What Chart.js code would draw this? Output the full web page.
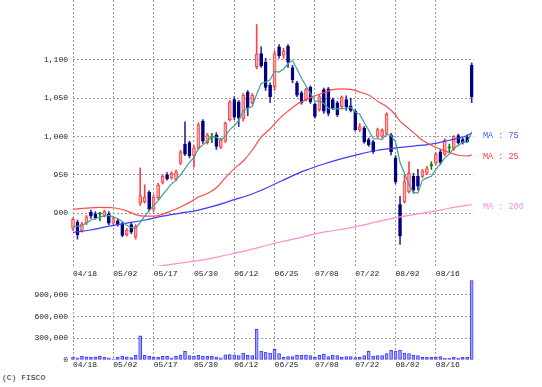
<!DOCTYPE html>
<html><head><meta charset="utf-8">
<script src="https://cdn.jsdelivr.net/npm/chart.js@4"></script>
<style>
html,body{margin:0;padding:0;background:#fff;width:542px;height:387px;overflow:hidden;}
#main{position:absolute;left:0;top:0;}
#vol{position:absolute;left:0;top:267px;}
#copy{position:absolute;left:2px;top:373px;font:8px "Liberation Mono","DejaVu Sans Mono",monospace;color:#222;white-space:pre;line-height:10px;}
</style></head><body>
<canvas id="main" width="542" height="266"></canvas>
<canvas id="vol" width="542" height="105"></canvas>
<div id="copy">(C) FISCO</div>
<script>
const tickIdx = [0, 9, 18, 27, 36, 45, 54, 63, 72, 81];
const tickLabels = ['04/18','05/02','05/17','05/30','06/12','06/25','07/08','07/22','08/02','08/16'];
const priceTicks = [900, 950, 1000, 1050, 1100];
const volTicks = [0, 300000, 600000, 900000];

const open = [880,888,877,887,901,899,899,897,899,887, 890,886,872,885,869,913,915,927,905,920,
  940,950,946,944,965,990,992,975,985,1020, 992,998,1002,986,994,1022,1048,1045,1023,1058,
  1044,1091,1108,1097,1067,1065,1117,1106,1118,1090, 1070,1057,1048,1064,1042,1035,1061,1062,1048,1044,
  1039,1048,1040,1033,1009,1011,996,993,1000,1000, 1004,1002,972,911,915,928,948,948,948,952,
  962,965,980,977,985,984,1001,996,999,1093];
const high = [894,891,888,897,904,902,901,904,902,895, 892,888,880,887,885,959,937,929,924,939,
  950,953,954,956,982,1019,994,988,1018,1022, 1004,1004,1005,998,1019,1047,1052,1047,1056,1060,
  1056,1146,1117,1102,1070,1112,1120,1115,1120,1093, 1072,1059,1063,1066,1044,1054,1063,1064,1050,1046,
  1053,1053,1050,1035,1017,1013,998,995,1011,1010, 1031,1004,975,922,950,967,952,957,957,961,
  967,979,983,997,990,1001,1003,998,1002,1096];
const low = [877,866,875,885,893,892,890,895,885,885, 883,869,870,873,866,910,913,903,902,918,
  938,943,944,942,963,975,972,960,983,991, 990,992,983,984,992,1020,1022,1013,1020,1027,
  1042,1088,1090,1060,1044,1060,1102,1102,1090,1070, 1052,1042,1046,1043,1024,1033,1030,1027,1035,1026,
  1037,1034,1032,1007,1006,991,987,978,998,998, 1002,976,938,859,913,926,926,930,946,950,
  957,963,963,975,980,982,990,990,992,1044];
const close = [892,872,886,895,896,894,899,902,887,893, 885,871,878,875,883,923,921,905,921,937,
  948,945,952,954,980,977,975,985,1015,994, 1002,998,987,996,1017,1045,1025,1024,1054,1037,
  1054,1107,1092,1064,1052,1108,1105,1111,1097,1074, 1054,1044,1061,1045,1026,1052,1033,1030,1037,1028,
  1051,1039,1034,1009,1013,993,989,980,1009,1008, 1029,980,941,870,941,952,930,935,955,958,
  962,977,966,995,985,1000,992,992,993,1052];
const volume = [40000,30000,50000,45000,40000,45000,50000,40000,30000,15000,
  40000,55000,45000,35000,65000,335000,65000,50000,40000,40000,
  50000,50000,30000,50000,70000,120000,60000,55000,65000,55000,
  50000,50000,45000,30000,70000,75000,70000,60000,95000,65000,
  60000,425000,125000,110000,92000,147000,88000,37000,46000,46000,
  65000,69000,69000,60000,37000,65000,83000,46000,69000,60000,
  37000,46000,46000,32000,37000,60000,120000,55000,60000,60000,
  88000,134000,124000,138000,97000,88000,65000,60000,37000,37000,
  37000,37000,46000,23000,23000,37000,28000,37000,37000,1097000];
const ma5 = [882,883,884,887,891,893,895,896,897,895, 893,889,884,881,880,888,896,903,910,916,
  924,931,938,943,950,958,966,973,984,989, 994,999,999,995,1000,1009,1014,1021,1033,1037,
  1039,1055,1069,1071,1074,1085,1084,1088,1095,1099, 1088,1076,1066,1056,1046,1046,1043,1037,1036,1036,
  1036,1037,1038,1032,1029,1018,1008,997,997,996, 1003,1001,993,966,952,937,927,926,943,946,
  948,957,964,972,977,985,988,993,992,1006];
const ma25Idx = [0,3,6,9,12,14,16,18,20,22,24,26,28,30,32,34,36,38,40,42,44,46,48,50,52,54,56,58,60,62,64,66,68,70,72,73,74,76,78,80,82,84,86,88,89];
const ma25 = [905,906.5,907.5,907,903,898,896,896,898.5,903,908,914,921,925.5,933,946,958,968,982,999,1010,1023,1033,1042,1048,1053,1057,1061,1062,1061.5,1058,1054,1046,1039,1028,1020,1015,1005,995,988.5,983.5,979,975.5,974.5,976];
const ma75Idx = [0,4,8,12,16,20,24,28,32,36,40,44,48,52,56,60,64,68,72,76,80,84,87,89];
const ma75 = [875,878,883,887,891,896,900,904,910,917.5,925,935,946,956,964,971,977,982,985,987.5,990,995,999,1004];
const ma200Idx = [18,22,26,30,34,38,42,46,50,54,58,62,66,70,74,78,82,86,89];
const ma200 = [830,833,836.5,840,845,850,856,862,867,873,877,881,886,891.5,896,900,904,908.5,911];

const N = close.length;
const idx = Array.from({length: N}, (_, i) => i);
const pick = (i, up, dn, eq) => close[i] > open[i] ? up : (close[i] < open[i] ? dn : eq);
const bodyBg = idx.map(i => pick(i, '#ffa8a8', '#000080', '#008000'));
const bodyBd = idx.map(i => pick(i, '#ff4040', '#000080', '#008000'));
const wickCol = idx.map(i => pick(i, '#ff4040', '#30309a', '#008000'));

const FONT = {family: '"Liberation Mono","DejaVu Sans Mono",monospace', size: 8};
const TXT = '#222';
const GRID = '#9a9a9a';
const DASH = [2, 2];
const XMAX = 89.4;

const maLabels = [
  {text: 'MA : 75', val: ma75[ma75.length - 1], color: '#3d5cff'},
  {text: 'MA : 25', val: ma25[ma25.length - 1], color: '#ff4040'},
  {text: 'MA : 200', val: ma200[ma200.length - 1], color: '#ff8fcf'}
];
const maLabelPlugin = {
  id: 'maLabels',
  afterDraw(chart) {
    const ctx = chart.ctx, y = chart.scales.y;
    ctx.save();
    ctx.font = '8.5px "Liberation Mono","DejaVu Sans Mono",monospace';
    ctx.textAlign = 'left';
    ctx.textBaseline = 'middle';
    maLabels.forEach(l => {
      ctx.fillStyle = l.color;
      ctx.fillText(l.text, chart.chartArea.right + 9.5, y.getPixelForValue(l.val) + 2);
    });
    ctx.restore();
  }
};

const xTicks = s => { s.ticks = tickIdx.map(v => ({value: v})); };

new Chart(document.getElementById('main'), {
  type: 'bar',
  data: {datasets: [
    {type: 'line', data: idx.map(i => ({x: i, y: ma5[i]})), borderColor: '#3f9f9a', borderWidth: 1.2, pointRadius: 0, tension: 0, order: 0},
    {type: 'line', data: ma25Idx.map((x, k) => ({x, y: ma25[k]})), borderColor: '#ff4b4b', borderWidth: 1.2, pointRadius: 0, cubicInterpolationMode: 'monotone', order: 0},
    {type: 'line', data: ma75Idx.map((x, k) => ({x, y: ma75[k]})), borderColor: '#3b3bff', borderWidth: 1.2, pointRadius: 0, cubicInterpolationMode: 'monotone', order: 0},
    {type: 'line', data: ma200Idx.map((x, k) => ({x, y: ma200[k]})), borderColor: '#ff8fcf', borderWidth: 1.2, pointRadius: 0, cubicInterpolationMode: 'monotone', order: 0},
    {data: idx.map(i => ({x: i, y: [open[i], close[i]]})), backgroundColor: bodyBg, borderColor: bodyBd, borderWidth: 1, borderSkipped: false, barThickness: 3, minBarLength: 1, grouped: false, order: 1, clip: false},
    {data: idx.map(i => ({x: i, y: [low[i], high[i]]})), backgroundColor: wickCol, borderWidth: 0, barThickness: 1, grouped: false, order: 2, clip: false}
  ]},
  options: {
    responsive: false, animation: false, events: [],
    layout: {padding: {left: 0, right: 542 - 73 - 400.5, top: 0, bottom: 0}},
    plugins: {legend: {display: false}, tooltip: {enabled: false}},
    scales: {
      x: {type: 'linear', offset: false, min: 0, max: XMAX, afterBuildTicks: xTicks,
          ticks: {display: false}, grid: {color: GRID, drawTicks: false, offset: false},
          border: {display: false, dash: DASH},
          afterFit: s => { s.height = 0; s.paddingLeft = 0; s.paddingRight = 0; }},
      y: {type: 'linear', min: 831, max: 1178,
          afterBuildTicks: s => { s.ticks = priceTicks.map(v => ({value: v})); },
          ticks: {font: FONT, color: TXT, padding: 5, callback: v => v.toLocaleString('en-US')},
          grid: {color: GRID, drawTicks: false}, border: {display: false, dash: DASH},
          afterFit: s => { s.width = 73; s.paddingTop = 0; s.paddingBottom = 0; }}
    }
  },
  plugins: [maLabelPlugin]
});

const dateTickOpts = {font: FONT, color: TXT, align: 'start', maxRotation: 0, minRotation: 0, autoSkip: false,
  callback: (v, i) => tickLabels[i]};

new Chart(document.getElementById('vol'), {
  type: 'bar',
  data: {datasets: [
    {data: idx.map(i => ({x: i, y: volume[i]})), backgroundColor: '#a6a6ff', borderColor: '#3c3cff', borderWidth: 1, borderSkipped: false, barThickness: 3, clip: false}
  ]},
  options: {
    responsive: false, animation: false, events: [],
    layout: {padding: {left: 0, right: 542 - 73 - 400.5, top: 0, bottom: 0}},
    plugins: {legend: {display: false}, tooltip: {enabled: false}},
    scales: {
      x: {type: 'linear', position: 'bottom', offset: false, min: 0, max: XMAX, afterBuildTicks: xTicks,
          ticks: Object.assign({padding: 0}, dateTickOpts),
          grid: {color: GRID, drawTicks: false, offset: false}, border: {display: false, dash: DASH},
          afterFit: s => { s.height = 12; s.paddingLeft = 0; s.paddingRight = 0; }},
      x2: {axis: 'x', type: 'linear', position: 'top', offset: false, min: 0, max: XMAX, afterBuildTicks: xTicks,
          ticks: Object.assign({padding: 1}, dateTickOpts),
          grid: {display: false, drawTicks: false, offset: false}, border: {display: false},
          afterFit: s => { s.height = 13; s.paddingLeft = 0; s.paddingRight = 0; }},
      y: {type: 'linear', min: 0, max: 1106500,
          afterBuildTicks: s => { s.ticks = volTicks.map(v => ({value: v})); },
          ticks: {font: FONT, color: TXT, padding: 5, callback: v => v.toLocaleString('en-US')},
          grid: {color: c => (c.tick && c.tick.value === 0) ? 'rgba(0,0,0,0)' : GRID, drawTicks: false},
          border: {display: false, dash: DASH},
          afterFit: s => { s.width = 73; s.paddingTop = 0; s.paddingBottom = 0; }}
    }
  }
});
</script>
</body></html>
